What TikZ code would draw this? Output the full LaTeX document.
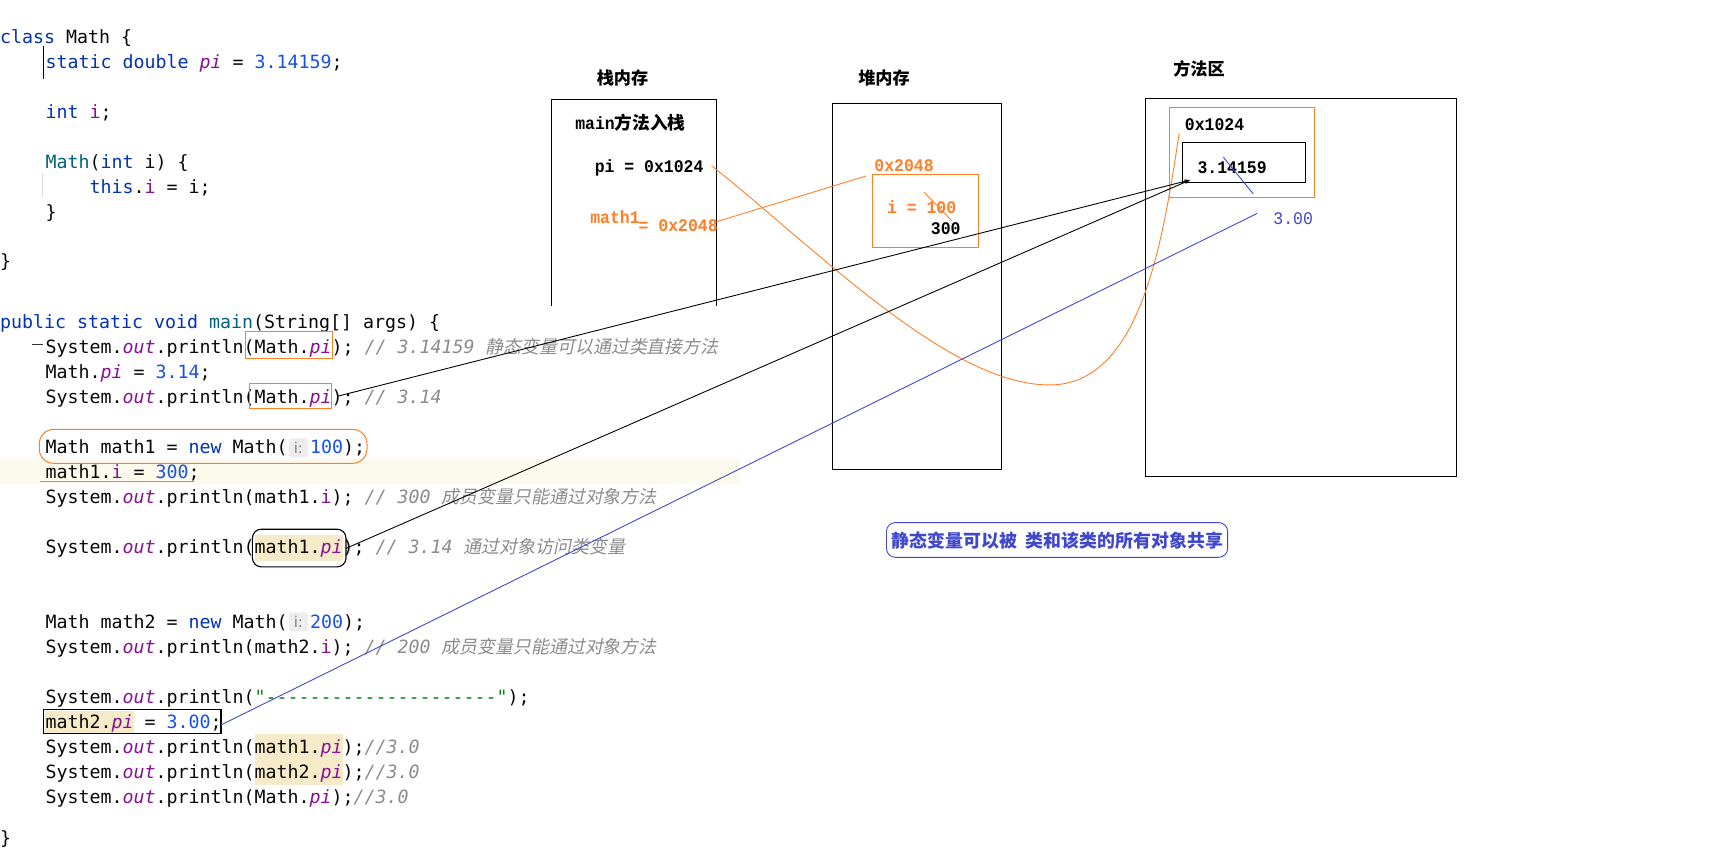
\documentclass[tikz,border=0pt]{standalone}
\usepackage{fontspec}
\usetikzlibrary{arrows.meta}
\newfontfamily\codefont{DejaVu Sans Mono}[Ligatures=TeXOff]
\newfontfamily\cjk{Noto Sans CJK SC}
\newfontfamily\cjkit{Noto Sans CJK SC}[FakeSlant=0.2]
\newfontfamily\memfont{Liberation Mono}[FakeStretch=0.93]
\newfontfamily\hintfont{DejaVu Sans}
\definecolor{kwc}{HTML}{0033B3}
\definecolor{nmc}{HTML}{1750EB}
\definecolor{fldc}{HTML}{871094}
\definecolor{mthc}{HTML}{00627A}
\definecolor{cmtc}{HTML}{8C8C8C}
\definecolor{strc}{HTML}{067D17}
\definecolor{txtc}{HTML}{080808}
\definecolor{hlc}{RGB}{246,235,200}
\definecolor{bandc}{RGB}{252,250,237}
\definecolor{orangec}{RGB}{255,127,39}
\definecolor{bluec}{RGB}{63,72,204}
\newcommand\kw[1]{\textcolor{kwc}{#1}}
\newcommand\nm[1]{\textcolor{nmc}{#1}}
\newcommand\fld[1]{\textcolor{fldc}{#1}}
\newcommand\sfld[1]{\textcolor{fldc}{\itshape #1}}
\newcommand\mth[1]{\textcolor{mthc}{#1}}
\newcommand\jstr[1]{\textcolor{strc}{#1}}
\newcommand\cmt[1]{\textcolor{cmtc}{\itshape #1}}
\newcommand\cjkc[1]{{\cjkit\fontsize{16.2}{18}\selectfont #1}}
\begin{document}
\begin{tikzpicture}[x=1pt,y=-1pt,
  code/.style={font=\codefont\fontsize{16.5}{18}\selectfont, text=txtc, inner sep=0, anchor=base west},
  mem/.style={font=\memfont\bfseries\fontsize{16}{18}\selectfont, inner sep=0, anchor=base west},
  cjklabel/.style={font=\cjk\bfseries\fontsize{15.5}{18}\selectfont, inner sep=0},
  hint/.style={fill=black!7, rounded corners=2pt, draw=none},
  hinttext/.style={font=\hintfont\fontsize{13.5}{15}\selectfont, text=black!50, inner sep=0},
  hl/.style={fill=hlc, draw=none},
  obox/.style={draw=orangec, line width=0.9pt},
  bbox/.style={draw=black, line width=1pt},
  oline/.style={draw=orangec, line width=0.8pt},
  bline/.style={draw=bluec, line width=0.8pt},
  kline/.style={draw=black, line width=0.8pt},
  memframe/.style={draw=black, line width=1pt}]
\useasboundingbox (0,0) rectangle (1568,768);
\fill[white] (0,0) rectangle (1568,768);

% backgrounds
\fill[bandc] (0,415) rectangle (668,437);
\fill[hl] (230,483) rectangle (309.6,507);
\fill[hl] (40.5,642) rectangle (120.6,662);
\fill[hl] (230,663) rectangle (309.6,709);
\fill[hint] (261,396) rectangle (278,413);
\fill[hint] (261,553) rectangle (278,570);

% editor marks
\draw[black, line width=1pt] (39,42) -- (39,71.6);
\draw[black!12, line width=0.8pt] (38.3,156.5) -- (38.3,179);
\draw[black!80, line width=0.8pt] (28.6,310.7) -- (39,310.7);

% code lines
\node[code] (l1) at (0,39) {\kw{class} Math \{};
\node[code] (l2) at (41,62) {\kw{static double} \sfld{pi} = \nm{3.14159};};
\node[code] (l3) at (41,107) {\kw{int} \fld{i};};
\node[code] (l4) at (41,152) {\mth{Math}(\kw{int} i) \{};
\node[code] (l5) at (80.8,175) {\kw{this}.\fld{i} = i;};
\node[code] (l6) at (41,197) {\}};
\node[code] (l7) at (0,242) {\}};
\node[code] (l8) at (0,296.5) {\kw{public static void} \mth{main}(String[] args) \{};
\node[code] (l9) at (41,319) {System.\sfld{out}.println(Math.\sfld{pi}); \cmt{// 3.14159 \cjkc{静态变量可以通过类直接方法}}};
\node[code] (l10) at (41,341.7) {Math.\sfld{pi} = \nm{3.14};};
\node[code] (l11) at (41,364.3) {System.\sfld{out}.println(Math.\sfld{pi}); \cmt{// 3.14}};
\node[code] (l12) at (41,409.4) {Math math1 = \kw{new} Math(};
\node[hinttext] (h12) at (269.5,404.5) {i:};
\node[code] (l12b) at (280,409.4) {\nm{100});};
\node[code] (l13) at (41,432) {math1.\fld{i} = \nm{300};};
\node[code] (l14) at (41,454.6) {System.\sfld{out}.println(math1.\fld{i}); \cmt{// 300 \cjkc{成员变量只能通过对象方法}}};
\node[code] (l15) at (41,499.8) {System.\sfld{out}.println(math1.\sfld{pi}); \cmt{// 3.14 \cjkc{通过对象访问类变量}}};
\node[code] (l16) at (41,567.5) {Math math2 = \kw{new} Math(};
\node[hinttext] (h16) at (269.5,561.5) {i:};
\node[code] (l16b) at (280,567.5) {\nm{200});};
\node[code] (l17) at (41,590) {System.\sfld{out}.println(math2.\fld{i}); \cmt{// 200 \cjkc{成员变量只能通过对象方法}}};
\node[code] (l18) at (41,635) {System.\sfld{out}.println(\jstr{"---------------------"});};
\node[code] (l19) at (41,657.8) {math2.\sfld{pi} = \nm{3.00};};
\node[code] (l20) at (41,680.4) {System.\sfld{out}.println(math1.\sfld{pi});\cmt{//3.0}};
\node[code] (l21) at (41,703) {System.\sfld{out}.println(math2.\sfld{pi});\cmt{//3.0}};
\node[code] (l22) at (41,725.6) {System.\sfld{out}.println(Math.\sfld{pi});\cmt{//3.0}};
\node[code] (l23) at (0,763) {\}};

% code annotations
\draw[obox] (222,299.6) rectangle (300,323.6);
\draw[obox] (225.8,346) rectangle (299.6,368.8);
\draw[obox, rounded corners=13pt] (35.5,387.8) rectangle (331.5,418.5);
\draw[oline] (36,435) -- (175,435);
\draw[bbox, rounded corners=8pt] (228,478) rectangle (312.5,512);
\draw[bbox] (39,641) rectangle (199.6,662.7);

% memory areas
\node[cjklabel] (stackT) at (562.3,70) {栈内存};
\node[cjklabel] (heapT) at (798.5,70) {堆内存};
\node[cjklabel] (methT) at (1083,62) {方法区};
\draw[memframe] (498.3,276) -- (498.3,89.7) -- (647.3,89.7) -- (647.3,276);
\draw[memframe] (751.7,93.3) rectangle (904.7,423.9);
\draw[memframe] (1034.8,88.8) rectangle (1315.7,430.2);

\node[mem, anchor=base west] (mainS) at (519.4,117) {main{\cjk\fontsize{16}{18}\selectfont 方法入栈}};
\node[mem] (piS) at (537,155.5) {pi = 0x1024};
\node[mem, text=orangec] (m1S) at (533,201.5) {math1};
\node[mem, text=orangec] (m1V) at (576.6,209) {= 0x2048};

\node[mem, text=orangec] (hAddr) at (789.6,155) {0x2048};
\draw[obox] (788,157.5) rectangle (883.6,223.4);
\node[mem, text=orangec] (hI) at (801,192.5) {i = 100};
\node[mem] (h300) at (840.6,211.5) {300};
\draw[oline] (834.8,173.7) -- (859.5,199.3);

\draw[obox] (1056.1,97) rectangle (1187.1,178.2);
\node[mem] (mAddr) at (1070,118) {0x1024};
\draw[bbox] (1067.9,128.6) rectangle (1179,164.7);
\node[mem] (mVal) at (1081.4,156.5) {3.14159};
\draw[bline] (1105,142) -- (1132,175.2);
\node[mem, text=bluec, font=\memfont\fontsize{16}{18}\selectfont] (mNew) at (1150,203) {3.00};

% caption
\draw[bline, rounded corners=8pt] (800.7,472) rectangle (1108.8,503.4);
\node[font=\cjk\bfseries\fontsize{16.2}{18}\selectfont, text=bluec, inner sep=0] (cap) at (955,488.6) {静态变量可以被\hspace{8pt}类和该类的所有对象共享};

% connectors
\coordinate (pA) at (642.7,149.6);
\coordinate (pM) at (948,347.7);
\coordinate (pE) at (1065,120.4);
\draw[oline] (pA) .. controls (743,230) and (858,347.7) .. (pM) .. controls (1030,347.7) and (1050,220) .. (pE);
\coordinate (o1) at (647.3,200.2);
\coordinate (o2) at (782,159);
\draw[oline] (o1) -- (o2);
\coordinate (k1) at (305.6,357.7);
\coordinate (k2) at (312.5,495.3);
\coordinate (kE) at (1074.8,162.6);
\draw[kline, -{Stealth[length=5pt,width=3.5pt]}] (k1) -- (kE);
\draw[kline, -{Stealth[length=5pt,width=3.5pt]}] (k2) -- (kE);
\coordinate (b1) at (199.6,654.8);
\coordinate (b2) at (1135.6,192.7);
\draw[bline] (b1) -- (b2);
\end{tikzpicture}
\end{document}
